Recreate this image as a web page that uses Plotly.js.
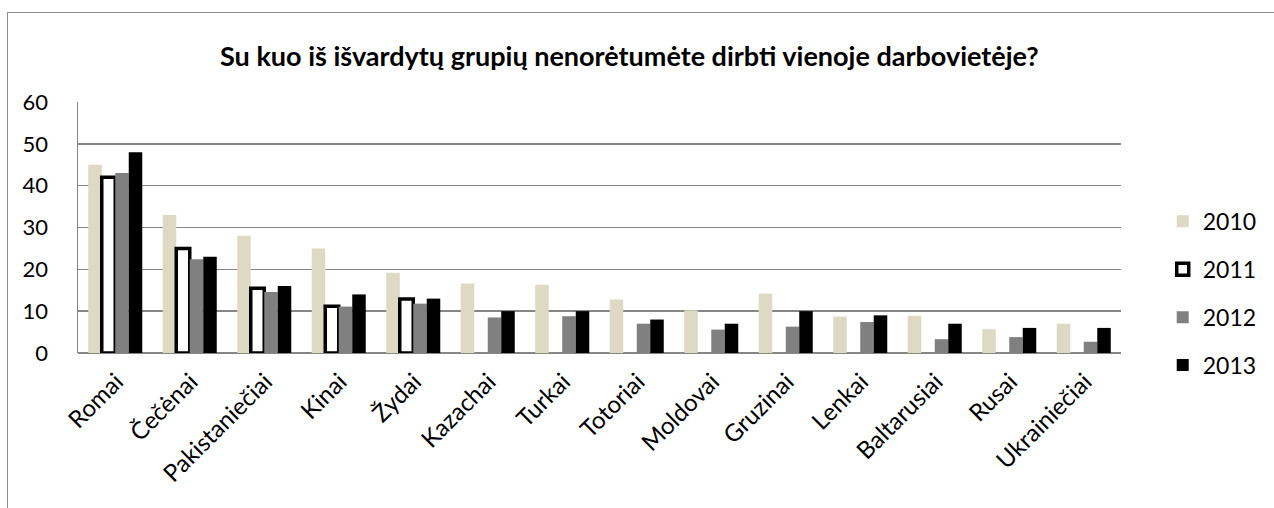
<!DOCTYPE html>
<html>
<head>
<meta charset="utf-8">
<script src="https://cdn.plot.ly/plotly-3.0.1.min.js"></script>
<style>
html,body{margin:0;padding:0;background:#fff;}
#frame{position:absolute;left:7px;top:12px;width:1280px;height:510px;border-top:1.5px solid #8c8c8c;border-left:1.5px solid #8c8c8c;}
#chart{position:absolute;left:0;top:0;width:1274px;height:508px;}
</style>
</head>
<body>
<div id="frame"></div>
<div id="chart"></div>
<script>
const categories = ["Romai","Čečėnai","Pakistaniečiai","Kinai","Žydai","Kazachai","Turkai","Totoriai","Moldovai","Gruzinai","Lenkai","Baltarusiai","Rusai","Ukrainiečiai"];
const years = ["2010","2011","2012","2013"];
const v2010 = [45,33,28,25,19.2,16.6,16.3,12.8,10.2,14.2,8.7,8.9,5.7,7];
const v2011 = [42,25,15.5,11.2,12.9,null,null,null,null,null,null,null,null,null];
const v2012 = [43,22.4,14.6,11.1,11.8,8.5,8.8,7,5.6,6.3,7.4,3.3,3.8,2.7];
const v2013 = [48,23,16,14,13,10,10,8,7,10,9,7,6,6];

const font = "Lato, 'Open Sans', sans-serif";
const traces = [
  {name: years[0], y: v2010, marker: {color: "#ddd9c3", line: {width: 0}}},
  {name: years[1], y: v2011, marker: {color: "#ffffff", line: {width: 3.5, color: "#000000"}}},
  {name: years[2], y: v2012, marker: {color: "#808080", line: {width: 0}}},
  {name: years[3], y: v2013, marker: {color: "#000000", line: {width: 0}}}
].map((t, i) => Object.assign({type: "bar", x: categories, legendgroup: "g" + i, hoverinfo: "x+y+name"}, t));

const layout = {
  width: 1274, height: 508,
  paper_bgcolor: "rgba(0,0,0,0)", plot_bgcolor: "rgba(0,0,0,0)",
  margin: {l: 78, r: 134, t: 102, b: 155},
  barmode: "group", bargap: 0.275, bargroupgap: 0,
  font: {family: font, color: "#000", size: 20},
  title: {text: "<b>Su kuo iš išvardytų grupių nenorėtumėte dirbti vienoje darbovietėje?</b>",
          font: {family: font, size: 27, color: "#000"}, x: 0.494, xref: "container", xanchor: "center", y: 0.888, yanchor: "middle"},
  xaxis: {type: "category", tickangle: -45, showgrid: false, showline: false, zeroline: false,
          ticks: "", tickfont: {family: font, size: 24}, automargin: false,
          ticklabelstandoff: 9, ticklabelshift: 1},
  yaxis: {range: [0, 60], dtick: 10, showgrid: true, gridcolor: "#868686", gridwidth: 1.5,
          showline: true, linecolor: "#868686", linewidth: 1.5, zeroline: true, zerolinecolor: "#868686", zerolinewidth: 1.5,
          ticks: "outside", ticklen: 24, tickcolor: "rgba(0,0,0,0)", tickfont: {family: font, size: 22}, automargin: false},
  legend: {x: 1.04, xanchor: "left", y: 0.61, yanchor: "top", font: {family: font, size: 23},
           tracegroupgap: 15, traceorder: "grouped", bgcolor: "rgba(0,0,0,0)", itemwidth: 30},
  showlegend: true
};

Plotly.newPlot("chart", traces, layout, {staticPlot: true, displayModeBar: false});
</script>
</body>
</html>
